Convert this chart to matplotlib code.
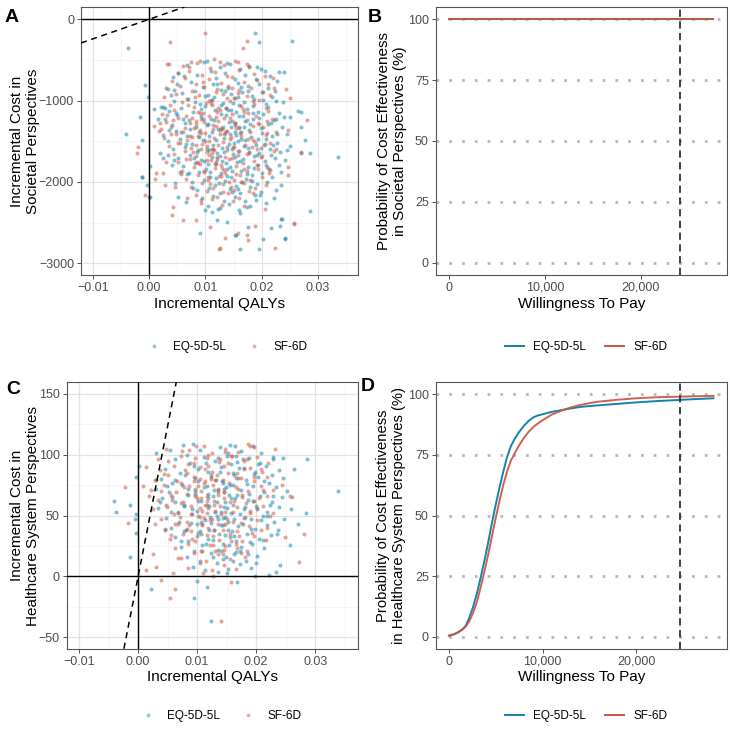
import matplotlib
matplotlib.use("Agg")
import matplotlib.pyplot as plt
from matplotlib.lines import Line2D
from matplotlib.ticker import FuncFormatter

plt.rcParams['font.family'] = ['Liberation Sans', 'DejaVu Sans']
plt.rcParams['axes.unicode_minus'] = True

# ---------------- data ----------------
series_names = ["EQ-5D-5L", "SF-6D"]

# Panel A: societal perspective, (incremental QALY, incremental cost)
soc_eq_points = [
    (-0.0038, -357), (0.0188, -173), (0.0196, -283), (0.0253, -267), (-0.0007, -808), (-0.0002, -952),
    (-0.0016, -1198), (-0.0041, -1415), (-0.0012, -1485), (-0.0013, -1936), (-0.0004, -2038), (0.0000, -2190),
    (0.0335, -1690), (0.0285, -2354), (0.0270, -1136), (0.0241, -2694), (0.0236, -2455), (0.0161, -2825),
    (0.0196, -2825), (0.0090, -2624), (0.0202, -2706), (0.0155, -2650), (0.0102, -509), (0.0139, -541),
    (0.0192, -583), (0.0199, -615), (0.0230, -644), (0.0240, -644), (0.0043, -706), (0.0052, -664),
    (0.0030, -849), (0.0044, -870), (0.0021, -1075), (0.0024, -1080), (0.0028, -1090), (0.0008, -1107),
    (0.0016, -1226), (0.0237, -1021), (0.0264, -1124), (0.0270, -1321), (0.0250, -1206), (0.0276, -1485),
    (0.0285, -1640), (0.0270, -1640), (0.0242, -2702), (0.0216, -2571), (0.0234, -2460), (0.0232, -2542),
    (0.0176, -2558), (0.0152, -2653), (0.0139, -2490), (0.0120, -2469), (0.0111, -2374), (0.0126, -2325),
    (0.0161, -2386), (0.0173, -2304), (0.0208, -2256), (0.0226, -2100), (0.0235, -2038), (0.0221, -2194),
    (0.0190, -2223), (0.0099, -2346), (0.0001, -2182), (0.0002, -1804), (-0.0012, -1943), (0.0025, -1710),
    (0.0034, -1669), (0.0019, -1648), (0.0040, -1792), (0.0055, -1882), (0.0078, -2079), (0.0046, -2017),
    (0.0066, -2243), (0.0052, -2182),
    (0.0068, -560), (0.0098, -520), (0.0125, -590), (0.0143, -545), (0.0162, -610), (0.0178, -575), (0.0205, -640), (0.0110, -630),
    (0.0062, -700), (0.0085, -680), (0.0118, -720), (0.0134, -665), (0.0152, -740), (0.0171, -690), (0.0189, -735), (0.0215, -700), (0.0228, -760),
    (0.0049, -800), (0.0074, -770), (0.0096, -830), (0.0121, -790), (0.0140, -845), (0.0158, -780), (0.0176, -820), (0.0196, -795), (0.0212, -840), (0.0224, -880),
    (0.0058, -905), (0.0082, -880), (0.0104, -935), (0.0127, -870), (0.0146, -920), (0.0165, -890), (0.0183, -945), (0.0201, -900), (0.0219, -960), (0.0038, -930),
    (0.0044, -1010), (0.0069, -980), (0.0090, -1040), (0.0112, -995), (0.0131, -1030), (0.0150, -970), (0.0169, -1015), (0.0187, -985), (0.0207, -1045), (0.0226, -1000), (0.0160, -1050),
    (0.0035, -1130), (0.0057, -1090), (0.0078, -1140), (0.0099, -1070), (0.0117, -1120), (0.0136, -1085), (0.0155, -1145), (0.0174, -1100), (0.0193, -1135), (0.0212, -1075), (0.0231, -1150), (0.0145, -1110),
    (0.0029, -1230), (0.0050, -1180), (0.0071, -1240), (0.0092, -1195), (0.0110, -1225), (0.0128, -1165), (0.0147, -1245), (0.0166, -1190), (0.0185, -1220), (0.0203, -1170), (0.0222, -1240), (0.0240, -1200),
    (0.0040, -1300), (0.0063, -1270), (0.0084, -1330), (0.0105, -1285), (0.0123, -1345), (0.0141, -1260), (0.0160, -1320), (0.0179, -1290), (0.0198, -1340), (0.0217, -1275), (0.0236, -1320), (0.0152, -1295),
    (0.0025, -1420), (0.0047, -1370), (0.0068, -1435), (0.0088, -1390), (0.0107, -1440), (0.0125, -1365), (0.0144, -1415), (0.0163, -1380), (0.0181, -1445), (0.0200, -1395), (0.0219, -1430), (0.0245, -1410), (0.0135, -1400),
    (0.0033, -1500), (0.0055, -1470), (0.0076, -1530), (0.0096, -1485), (0.0114, -1545), (0.0133, -1460), (0.0151, -1520), (0.0170, -1490), (0.0189, -1540), (0.0208, -1475), (0.0228, -1525), (0.0250, -1560), (0.0158, -1500),
    (0.0042, -1600), (0.0064, -1575), (0.0085, -1630), (0.0103, -1590), (0.0121, -1645), (0.0139, -1565), (0.0157, -1615), (0.0176, -1580), (0.0195, -1640), (0.0214, -1600), (0.0233, -1630), (0.0148, -1600),
    (0.0052, -1700), (0.0073, -1670), (0.0093, -1735), (0.0112, -1690), (0.0130, -1745), (0.0149, -1660), (0.0167, -1720), (0.0186, -1680), (0.0205, -1740), (0.0224, -1700), (0.0242, -1730),
    (0.0060, -1800), (0.0081, -1770), (0.0101, -1835), (0.0119, -1785), (0.0138, -1845), (0.0156, -1760), (0.0175, -1820), (0.0194, -1790), (0.0213, -1840), (0.0230, -1795),
    (0.0068, -1900), (0.0089, -1875), (0.0109, -1935), (0.0127, -1885), (0.0145, -1945), (0.0164, -1860), (0.0182, -1920), (0.0201, -1890), (0.0219, -1940),
    (0.0077, -2000), (0.0098, -1970), (0.0117, -2035), (0.0135, -1985), (0.0154, -2045), (0.0172, -1960), (0.0191, -2020), (0.0210, -1995),
    (0.0085, -2100), (0.0106, -2070), (0.0125, -2135), (0.0144, -2085), (0.0162, -2140), (0.0180, -2060), (0.0199, -2120),
    (0.0094, -2200), (0.0114, -2170), (0.0133, -2235), (0.0152, -2185), (0.0170, -2240), (0.0188, -2165),
    (0.0104, -2290), (0.0123, -2330), (0.0142, -2270), (0.0160, -2340), (0.0179, -2300),
    (0.0081, -1012), (0.0093, -1106), (0.0115, -957), (0.0137, -1178), (0.0149, -1034), (0.0171, -1253), (0.0184, -1068), (0.0196, -1211),
    (0.0073, -1347), (0.0102, -1302), (0.0119, -1484), (0.0131, -1322), (0.0155, -1427), (0.0168, -1561), (0.0178, -1364), (0.0206, -1528),
    (0.0087, -1602), (0.0097, -1741), (0.0126, -1687), (0.0143, -1822), (0.0161, -1745), (0.0173, -1903), (0.0191, -1673), (0.0209, -1812),
    (0.0066, -1531), (0.0079, -1705), (0.0108, -1875), (0.0124, -2012), (0.0139, -1928), (0.0158, -2087), (0.0183, -1985), (0.0197, -2163),
    (0.0113, -792), (0.0134, -883), (0.0157, -957), (0.0176, -887), (0.0099, -947), (0.0185, -1157), (0.0128, -1052), (0.0146, -1321),
    (0.0116, -1236), (0.0163, -1466), (0.0142, -1539), (0.0106, -1612), (0.0089, -1447), (0.0152, -1691), (0.0136, -1762), (0.0118, -1948),
    (0.0165, -1996), (0.0148, -2118), (0.0211, -1289), (0.0227, -1412), (0.0061, -1220), (0.0056, -1391), (0.0071, -1893), (0.0217, -1663),
    (0.0193, -1466), (0.0129, -1584), (0.0140, -1118), (0.0159, -1194), (0.0177, -1634), (0.0187, -1826), (0.0095, -1226), (0.0111, -1383),
    (0.0153, -1384), (0.0168, -1320), (0.0121, -1716), (0.0133, -1627), (0.0147, -1862), (0.0104, -1778), (0.0198, -1587), (0.0220, -1551),
    (0.0234, -1872), (0.0226, -1228), (0.0048, -1154), (0.0036, -1357), (0.0045, -1734), (0.0245, -1611), (0.0202, -992), (0.0164, -833),
]

soc_sf_points = [
    (0.0100, -172), (0.0037, -283), (0.0173, -271), (0.0166, -357), (-0.0022, -1648), (-0.0019, -1570),
    (-0.0007, -2161), (0.0258, -2509), (0.0124, -2825), (0.0223, -2817), (0.0175, -2710), (0.0031, -554),
    (0.0035, -554), (0.0090, -509), (0.0116, -492), (0.0126, -521), (0.0152, -509), (0.0173, -554),
    (0.0070, -583), (0.0008, -1312), (0.0019, -1280), (0.0220, -726), (0.0244, -861), (0.0251, -972),
    (0.0280, -1239), (0.0247, -1362), (0.0043, -2304), (0.0040, -2407), (0.0061, -2469), (0.0084, -2469),
    (0.0108, -2558), (0.0126, -2817), (0.0135, -2694), (0.0158, -2632), (0.0173, -2653), (0.0188, -2542),
    (0.0206, -2337), (0.0257, -2521), (0.0270, -1628), (0.0247, -1813), (0.0247, -1915), (0.0010, -1964),
    (0.0012, -1894), (0.0025, -1894), (0.0028, -2038), (0.0046, -2059), (0.0067, -2202), (0.0093, -2223),
    (0.0060, -575), (0.0085, -540), (0.0108, -600), (0.0133, -560), (0.0158, -530), (0.0178, -590), (0.0075, -520),
    (0.0052, -660), (0.0070, -630), (0.0094, -690), (0.0117, -645), (0.0139, -700), (0.0160, -620), (0.0186, -675), (0.0205, -700),
    (0.0041, -760), (0.0063, -725), (0.0084, -790), (0.0106, -740), (0.0127, -785), (0.0148, -710), (0.0168, -770), (0.0192, -745), (0.0212, -790),
    (0.0034, -860), (0.0055, -820), (0.0077, -880), (0.0098, -835), (0.0119, -895), (0.0140, -815), (0.0160, -870), (0.0181, -840), (0.0203, -890), (0.0222, -850),
    (0.0026, -960), (0.0047, -920), (0.0068, -985), (0.0089, -935), (0.0110, -995), (0.0131, -915), (0.0152, -970), (0.0173, -940), (0.0195, -990), (0.0215, -930),
    (0.0037, -1050), (0.0058, -1015), (0.0080, -1080), (0.0101, -1030), (0.0122, -1095), (0.0143, -1010), (0.0164, -1065), (0.0186, -1040), (0.0207, -1085), (0.0112, -1050),
    (0.0022, -1160), (0.0044, -1120), (0.0065, -1185), (0.0086, -1135), (0.0106, -1195), (0.0126, -1110), (0.0147, -1170), (0.0168, -1140), (0.0190, -1190), (0.0211, -1130), (0.0096, -1150),
    (0.0030, -1260), (0.0052, -1215), (0.0073, -1280), (0.0093, -1230), (0.0113, -1295), (0.0133, -1210), (0.0153, -1270), (0.0174, -1240), (0.0196, -1290), (0.0218, -1225), (0.0083, -1255), (0.0123, -1250),
    (0.0018, -1370), (0.0039, -1320), (0.0060, -1385), (0.0080, -1335), (0.0100, -1395), (0.0119, -1310), (0.0139, -1370), (0.0159, -1340), (0.0180, -1390), (0.0202, -1325), (0.0225, -1380), (0.0090, -1360), (0.0129, -1345),
    (0.0027, -1460), (0.0047, -1415), (0.0067, -1480), (0.0087, -1430), (0.0106, -1495), (0.0125, -1410), (0.0144, -1470), (0.0164, -1440), (0.0185, -1490), (0.0207, -1425), (0.0077, -1450), (0.0116, -1455),
    (0.0035, -1560), (0.0055, -1515), (0.0075, -1580), (0.0094, -1530), (0.0113, -1595), (0.0132, -1510), (0.0151, -1570), (0.0171, -1540), (0.0192, -1590), (0.0214, -1525), (0.0103, -1555), (0.0084, -1550),
    (0.0044, -1660), (0.0064, -1615), (0.0083, -1680), (0.0102, -1630), (0.0120, -1695), (0.0139, -1610), (0.0158, -1670), (0.0178, -1640), (0.0199, -1690), (0.0221, -1625), (0.0111, -1650),
    (0.0052, -1760), (0.0072, -1715), (0.0091, -1780), (0.0110, -1730), (0.0128, -1795), (0.0147, -1710), (0.0166, -1770), (0.0186, -1740), (0.0207, -1790), (0.0119, -1750),
    (0.0059, -1860), (0.0079, -1815), (0.0098, -1880), (0.0117, -1830), (0.0135, -1895), (0.0154, -1810), (0.0173, -1870), (0.0193, -1840), (0.0213, -1885),
    (0.0066, -1960), (0.0086, -1915), (0.0105, -1980), (0.0124, -1930), (0.0142, -1995), (0.0161, -1910), (0.0180, -1970), (0.0200, -1940),
    (0.0074, -2060), (0.0094, -2015), (0.0113, -2080), (0.0131, -2030), (0.0150, -2095), (0.0169, -2010), (0.0188, -2070), (0.0207, -2040),
    (0.0083, -2160), (0.0103, -2115), (0.0121, -2180), (0.0140, -2130), (0.0159, -2195), (0.0178, -2110),
    (0.0093, -2260), (0.0112, -2215), (0.0130, -2280), (0.0149, -2230), (0.0168, -2290),
    (0.0069, -1058), (0.0091, -1147), (0.0106, -1002), (0.0118, -1196), (0.0137, -1088), (0.0153, -1271), (0.0166, -1103), (0.0184, -1311),
    (0.0064, -1336), (0.0084, -1283), (0.0099, -1492), (0.0114, -1351), (0.0133, -1406), (0.0149, -1574), (0.0162, -1393), (0.0188, -1505),
    (0.0078, -1633), (0.0085, -1759), (0.0107, -1671), (0.0129, -1826), (0.0142, -1718), (0.0155, -1908), (0.0174, -1652), (0.0191, -1795),
    (0.0051, -1521), (0.0066, -1714), (0.0097, -1866), (0.0109, -2026), (0.0127, -1921), (0.0146, -2058), (0.0164, -2004), (0.0184, -2138),
    (0.0095, -771), (0.0121, -853), (0.0138, -964), (0.0157, -909), (0.0081, -951), (0.0175, -1149), (0.0110, -1029), (0.0128, -1331),
    (0.0098, -1257), (0.0146, -1448), (0.0123, -1546), (0.0093, -1591), (0.0072, -1429), (0.0134, -1699), (0.0117, -1781), (0.0104, -1934),
    (0.0151, -1982), (0.0131, -2129), (0.0194, -1275), (0.0209, -1398), (0.0043, -1239), (0.0038, -1408), (0.0056, -1904), (0.0200, -1678),
    (0.0176, -1476), (0.0111, -1594), (0.0120, -1134), (0.0144, -1209), (0.0160, -1624), (0.0169, -1841), (0.0076, -1218), (0.0093, -1394),
    (0.0136, -1372), (0.0155, -1336), (0.0103, -1726), (0.0115, -1609), (0.0133, -1853), (0.0087, -1764), (0.0183, -1571), (0.0204, -1544),
    (0.0215, -1858), (0.0209, -1247), (0.0032, -1171), (0.0021, -1344), (0.0030, -1751), (0.0226, -1598), (0.0184, -1008), (0.0147, -848),
]

# Panel C: healthcare system perspective
hc_eq_points = [
    (-0.0041, 62), (-0.0038, 53), (-0.0014, 16), (-0.0013, 59), (-0.0003, 51), (-0.0003, 36), (0.0001, 91),
    (-0.0003, 82), (-0.0006, 47), (0.0338, 70), (0.0286, 96), (0.0285, 52), (0.0271, 43), (0.0264, 88),
    (0.0257, 26), (0.0240, 9), (0.0233, 4), (0.0222, 1), (0.0198, 0), (0.0167, -5), (0.0094, -18),
    (0.0123, -37), (0.0021, -10), (0.0116, -9), (0.0099, -4), (0.0136, 4), (0.0150, 3), (0.0031, 101),
    (0.0054, 104), (0.0076, 108), (0.0093, 109), (0.0155, 108), (0.0164, 107), (0.0209, 101), (0.0229, 96), (0.0246, 97),
    (0.0105, 104), (0.0138, 106), (0.0152, 101), (0.0175, 103), (0.0195, 107), (0.0083, 100),
    (0.0062, 96), (0.0088, 93), (0.0112, 98), (0.0131, 95), (0.0150, 99), (0.0168, 94), (0.0187, 97), (0.0206, 93), (0.0228, 98),
    (0.0045, 88), (0.0071, 85), (0.0095, 91), (0.0118, 86), (0.0140, 90), (0.0160, 85), (0.0179, 89), (0.0198, 86), (0.0217, 91), (0.0238, 87),
    (0.0038, 80), (0.0058, 77), (0.0080, 83), (0.0102, 78), (0.0123, 82), (0.0143, 77), (0.0163, 83), (0.0183, 79), (0.0203, 82), (0.0222, 77), (0.0245, 81), (0.0132, 79),
    (0.0030, 72), (0.0052, 69), (0.0074, 75), (0.0096, 70), (0.0116, 74), (0.0136, 69), (0.0155, 75), (0.0175, 71), (0.0195, 74), (0.0214, 69), (0.0233, 73), (0.0146, 72), (0.0252, 70),
    (0.0041, 64), (0.0063, 61), (0.0085, 67), (0.0106, 62), (0.0127, 66), (0.0147, 61), (0.0167, 67), (0.0186, 63), (0.0206, 66), (0.0226, 61), (0.0243, 65), (0.0157, 64), (0.0118, 64),
    (0.0034, 56), (0.0056, 53), (0.0078, 59), (0.0099, 54), (0.0120, 58), (0.0140, 53), (0.0160, 59), (0.0179, 55), (0.0199, 58), (0.0219, 53), (0.0238, 57), (0.0150, 56), (0.0259, 55),
    (0.0048, 48), (0.0070, 45), (0.0092, 51), (0.0113, 46), (0.0133, 50), (0.0153, 45), (0.0172, 51), (0.0192, 47), (0.0212, 50), (0.0231, 45), (0.0143, 48), (0.0162, 47),
    (0.0055, 40), (0.0077, 37), (0.0099, 43), (0.0120, 38), (0.0140, 42), (0.0159, 37), (0.0178, 43), (0.0198, 39), (0.0218, 42), (0.0237, 38),
    (0.0063, 32), (0.0085, 29), (0.0107, 35), (0.0127, 30), (0.0147, 34), (0.0166, 29), (0.0185, 35), (0.0205, 31), (0.0225, 34), (0.0155, 32),
    (0.0072, 24), (0.0094, 21), (0.0115, 27), (0.0135, 22), (0.0154, 26), (0.0173, 21), (0.0193, 27), (0.0213, 23),
    (0.0082, 16), (0.0104, 13), (0.0124, 19), (0.0144, 14), (0.0163, 18), (0.0182, 13), (0.0202, 17),
    (0.0093, 8), (0.0114, 5), (0.0133, 11), (0.0153, 6), (0.0172, 10), (0.0191, 7),
    (0.0084, 72), (0.0097, 81), (0.0119, 68), (0.0138, 86), (0.0149, 73), (0.0171, 89), (0.0184, 76), (0.0197, 84),
    (0.0077, 58), (0.0101, 62), (0.0122, 49), (0.0134, 61), (0.0158, 52), (0.0169, 41), (0.0181, 57), (0.0208, 46),
    (0.0089, 44), (0.0099, 33), (0.0128, 38), (0.0144, 27), (0.0163, 33), (0.0175, 24), (0.0192, 39), (0.0211, 30),
    (0.0068, 52), (0.0081, 38), (0.0109, 26), (0.0126, 16), (0.0141, 21), (0.0161, 13), (0.0186, 18), (0.0199, 11),
    (0.0115, 93), (0.0136, 97), (0.0157, 92), (0.0178, 96), (0.0102, 88), (0.0187, 68), (0.0129, 71), (0.0146, 57),
    (0.0117, 59), (0.0164, 64), (0.0143, 42), (0.0107, 45), (0.0091, 55), (0.0153, 38), (0.0137, 35), (0.0119, 31),
    (0.0166, 20), (0.0149, 16), (0.0213, 78), (0.0229, 66), (0.0062, 79), (0.0057, 65), (0.0073, 29), (0.0218, 50),
    (0.0194, 62), (0.0131, 53), (0.0142, 78), (0.0161, 75), (0.0179, 48), (0.0189, 28), (0.0096, 68), (0.0112, 73),
    (0.0154, 67), (0.0169, 81), (0.0123, 44), (0.0135, 47), (0.0148, 49), (0.0105, 37), (0.0201, 55), (0.0223, 59),
    (0.0236, 35), (0.0227, 83), (0.0049, 74), (0.0037, 61), (0.0046, 38), (0.0247, 47), (0.0203, 92), (0.0165, 99),
]

hc_sf_points = [
    (-0.0023, 73), (-0.0017, 44), (0.0008, 74), (0.0013, 5), (0.0038, -3), (0.0062, -10), (0.0054, -18),
    (0.0140, -37), (0.0158, -5), (0.0127, 0), (0.0110, 3), (0.0281, 35), (0.0273, 12), (0.0249, 32),
    (0.0232, 105), (0.0186, 109), (0.0189, 107), (0.0111, 107), (0.0086, 104), (0.0048, 105), (0.0033, 96),
    (0.0014, 90), (0.0257, 66), (0.0260, 65), (0.0243, 75), (0.0068, 15), (0.0030, 8), (0.0025, 18), (0.0059, 3),
    (0.0075, 103), (0.0098, 107), (0.0125, 101), (0.0148, 105), (0.0170, 102), (0.0196, 106),
    (0.0050, 95), (0.0072, 99), (0.0094, 93), (0.0116, 97), (0.0137, 94), (0.0158, 99), (0.0180, 95), (0.0201, 98), (0.0220, 93),
    (0.0037, 87), (0.0060, 91), (0.0082, 85), (0.0104, 90), (0.0125, 86), (0.0146, 91), (0.0167, 85), (0.0189, 89), (0.0210, 86), (0.0113, 88),
    (0.0029, 79), (0.0051, 83), (0.0073, 77), (0.0094, 82), (0.0114, 78), (0.0134, 83), (0.0154, 77), (0.0175, 81), (0.0197, 78), (0.0218, 82), (0.0104, 80), (0.0124, 80),
    (0.0021, 71), (0.0043, 75), (0.0065, 69), (0.0086, 74), (0.0106, 70), (0.0126, 75), (0.0145, 69), (0.0165, 73), (0.0186, 70), (0.0208, 74), (0.0229, 71), (0.0096, 72), (0.0136, 72),
    (0.0033, 63), (0.0055, 67), (0.0076, 61), (0.0097, 66), (0.0117, 62), (0.0136, 67), (0.0156, 61), (0.0176, 65), (0.0197, 62), (0.0219, 66), (0.0107, 64), (0.0146, 64),
    (0.0026, 55), (0.0047, 59), (0.0068, 53), (0.0089, 58), (0.0109, 54), (0.0128, 59), (0.0148, 53), (0.0168, 57), (0.0189, 54), (0.0211, 58), (0.0118, 56),
    (0.0039, 47), (0.0061, 51), (0.0082, 45), (0.0102, 50), (0.0122, 46), (0.0141, 51), (0.0161, 45), (0.0181, 49), (0.0202, 46), (0.0224, 50), (0.0112, 48),
    (0.0046, 39), (0.0068, 43), (0.0089, 37), (0.0109, 42), (0.0129, 38), (0.0148, 43), (0.0168, 37), (0.0188, 41), (0.0209, 38),
    (0.0054, 31), (0.0076, 35), (0.0097, 29), (0.0117, 34), (0.0137, 30), (0.0156, 35), (0.0176, 29), (0.0196, 33), (0.0217, 30),
    (0.0063, 23), (0.0085, 27), (0.0106, 21), (0.0126, 26), (0.0145, 22), (0.0165, 27), (0.0185, 21),
    (0.0073, 15), (0.0095, 19), (0.0115, 13), (0.0135, 18), (0.0155, 14), (0.0175, 19),
    (0.0084, 7), (0.0105, 11), (0.0125, 5), (0.0146, 9), (0.0165, 6),
    (0.0066, 78), (0.0079, 87), (0.0101, 74), (0.0119, 91), (0.0131, 79), (0.0153, 93), (0.0166, 81), (0.0179, 88),
    (0.0058, 63), (0.0083, 68), (0.0104, 56), (0.0117, 66), (0.0139, 58), (0.0151, 47), (0.0163, 62), (0.0189, 52),
    (0.0071, 49), (0.0082, 39), (0.0109, 43), (0.0126, 33), (0.0144, 38), (0.0157, 29), (0.0174, 44), (0.0193, 36),
    (0.0049, 57), (0.0063, 43), (0.0091, 31), (0.0108, 21), (0.0122, 26), (0.0143, 18), (0.0167, 23), (0.0181, 16),
    (0.0096, 97), (0.0118, 100), (0.0139, 96), (0.0159, 99), (0.0084, 92), (0.0169, 72), (0.0111, 77), (0.0128, 62),
    (0.0099, 64), (0.0146, 69), (0.0125, 47), (0.0089, 51), (0.0073, 60), (0.0135, 43), (0.0119, 40), (0.0101, 36),
    (0.0148, 25), (0.0131, 21), (0.0196, 82), (0.0211, 71), (0.0044, 84), (0.0039, 70), (0.0055, 34), (0.0201, 56),
    (0.0176, 67), (0.0113, 59), (0.0124, 83), (0.0143, 79), (0.0161, 53), (0.0171, 33), (0.0078, 73), (0.0094, 78),
    (0.0136, 71), (0.0152, 85), (0.0105, 49), (0.0117, 52), (0.0130, 54), (0.0087, 42), (0.0183, 60), (0.0205, 64),
    (0.0218, 40), (0.0209, 88), (0.0031, 79), (0.0019, 66), (0.0028, 43), (0.0229, 52), (0.0185, 96), (0.0147, 102),
]

# Panel B: CEAC, societal perspective
wtp_b = [0, 5000, 10000, 15000, 20000, 25000, 27600]
ceac_b_eq = [100, 100, 100, 100, 100, 100, 100]
ceac_b_sf = [100, 100, 100, 100, 100, 100, 100]
threshold_b = 24100

# Panel D: CEAC, healthcare system perspective
wtp_d = [0, 500, 1000, 1500, 1800, 2200, 2600, 3000, 3400, 3800, 4200, 4600, 5000, 5400, 5800, 6200,
         6600, 7000, 7500, 8000, 8500, 9000, 9500, 10000, 10500, 11000, 12000, 13000, 14000, 15000,
         16000, 18000, 20000, 22000, 24000, 26000, 28260]
ceac_d_eq = [0.4, 0.9, 1.8, 3.2, 4.5, 8, 12.5, 18, 24.5, 31.5, 39, 47, 54.5, 61.5, 68, 74,
             78.5, 81.5, 84.5, 87, 89, 90.5, 91.3, 91.8, 92.3, 92.8, 93.5, 94.2, 94.8, 95.2,
             95.5, 96.1, 96.7, 97.2, 97.6, 98.0, 98.4]
ceac_d_sf = [0.4, 0.9, 1.8, 3.1, 4.2, 6.5, 10, 14.5, 20.5, 27, 34, 41.5, 49, 56, 62.5, 68,
             72.5, 75.5, 79, 82, 84.5, 86.5, 88, 89.3, 90.5, 91.7, 93.3, 94.6, 95.6, 96.4,
             97.0, 97.8, 98.4, 98.8, 99.0, 99.2, 99.4]
threshold_d = 24700

# ---------------- style ----------------
BLUE = "#1483AC"
RED = "#C8553F"
colors = [BLUE, RED]
TICK_C = "#4D4D4D"
BORDER_C = "#555555"

W = 730.0
def rect(l, t, r, b):
    return [l / W, 1 - b / W, (r - l) / W, (b - t) / W]

fig = plt.figure(figsize=(7.3, 7.3), dpi=100)
fig.patch.set_facecolor("white")

axA = fig.add_axes(rect(81, 7, 358, 275))
axB = fig.add_axes(rect(435.7, 7, 726.7, 275))
axC = fig.add_axes(rect(66.7, 382.3, 358.3, 648.7))
axD = fig.add_axes(rect(435.7, 382.3, 726.7, 648.7))

def style_common(ax):
    for s in ax.spines.values():
        s.set_color(BORDER_C)
        s.set_linewidth(0.8)
    ax.tick_params(axis="both", which="major", length=3, width=0.6, color="#333333",
                   labelsize=9, labelcolor=TICK_C, pad=2)
    ax.tick_params(axis="both", which="minor", length=0)

def fmt_q(v, pos):
    s = f"{abs(v):.2f}"
    return ("\u2212" + s) if v < -1e-12 else s

def fmt_int(v, pos):
    return ("\u2212" + f"{abs(v):.0f}") if v < 0 else f"{v:.0f}"

def fmt_comma(v, pos):
    return f"{v:,.0f}"

def ce_plane(ax, pts_eq, pts_sf, xlim, ylim, yticks, yminor, slope, ylabel):
    style_common(ax)
    ax.set_xlim(*xlim)
    ax.set_ylim(*ylim)
    ax.set_xticks([-0.01, 0.0, 0.01, 0.02, 0.03])
    ax.set_xticks([-0.005, 0.005, 0.015, 0.025, 0.035], minor=True)
    ax.set_yticks(yticks)
    ax.set_yticks(yminor, minor=True)
    ax.xaxis.set_major_formatter(FuncFormatter(fmt_q))
    ax.yaxis.set_major_formatter(FuncFormatter(fmt_int))
    ax.grid(True, which="major", color="#E3E3E3", linewidth=0.9, zorder=0)
    ax.grid(True, which="minor", color="#F2F2F2", linewidth=0.5, zorder=0)
    ax.set_axisbelow(True)
    for pts, c, name in zip([pts_eq, pts_sf], colors, series_names):
        xs = [p[0] for p in pts]
        ys = [p[1] for p in pts]
        ax.scatter(xs, ys, s=8.5, color=c, alpha=0.52, linewidths=0, zorder=2, label=name)
    ax.axhline(0, color="black", linewidth=1.0, zorder=3)
    ax.axvline(0, color="black", linewidth=1.0, zorder=3)
    ax.axline((0, 0), slope=slope, color="black", linewidth=1.1, dashes=(4, 3), zorder=3)
    ax.set_xlabel("Incremental QALYs", fontsize=11, labelpad=2)
    ax.set_ylabel(ylabel, fontsize=11, linespacing=1.15)

def ceac(ax, wtp, eq, sf, thr, ylabel, yfs):
    style_common(ax)
    ax.set_xlim(-0.05 * wtp[-1], 1.05 * wtp[-1])
    ax.set_ylim(-5, 105)
    ax.set_yticks([0, 25, 50, 75, 100])
    ax.set_xticks([0, 10000, 20000])
    ax.xaxis.set_major_formatter(FuncFormatter(fmt_comma))
    for yv in [0, 25, 50, 75, 100]:
        ax.axhline(yv, color="#B8B8B8", linewidth=2.0, linestyle=(0, (1, 3.6)), zorder=1)
    ax.plot(wtp, eq, color=BLUE, linewidth=1.4, zorder=3, label=series_names[0])
    ax.plot(wtp, sf, color=RED, linewidth=1.4, alpha=0.92, zorder=4, label=series_names[1])
    ax.axvline(thr, color="#333333", linewidth=1.3, dashes=(4, 2.5), zorder=5)
    ax.set_xlabel("Willingness To Pay", fontsize=11, labelpad=2)
    ax.set_ylabel(ylabel, fontsize=yfs, linespacing=1.15)

ce_plane(axA, soc_eq_points, soc_sf_points, (-0.0121, 0.0371), (-3144, 151),
         [0, -1000, -2000, -3000], [-500, -1500, -2500], threshold_b,
         "Incremental Cost in\nSocietal Perspectives")
ce_plane(axC, hc_eq_points, hc_sf_points, (-0.0121, 0.0373), (-59.4, 159.4),
         [-50, 0, 50, 100, 150], [-25, 25, 75, 125], threshold_d,
         "Incremental Cost in\nHealthcare System Perspectives")
ceac(axB, wtp_b, ceac_b_eq, ceac_b_sf, threshold_b,
     "Probability of Cost Effectiveness\nin Societal Perspectives (%)", 11)
ceac(axD, wtp_d, ceac_d_eq, ceac_d_sf, threshold_d,
     "Probability of Cost Effectiveness\nin Healthcare System Perspectives (%)", 10.6)

# y-label positions: figure pixel x of the label's right edge
for ax, xr in [(axA, 40), (axB, 407), (axC, 40), (axD, 406)]:
    bb = ax.get_position()
    ax.yaxis.set_label_coords((xr / W - bb.x0) / bb.width, 0.5)

# legends
def pt_handles():
    return [Line2D([], [], linestyle="none", marker="o", markersize=2.8,
                   markerfacecolor=c, markeredgewidth=0, alpha=0.45) for c in colors]

def ln_handles():
    return [Line2D([], [], color=c, linewidth=1.4) for c in colors]

for ax, handles, cx, cy in [(axA, pt_handles(), 226, 347), (axC, pt_handles(), 220, 716),
                            (axB, ln_handles(), 586, 347), (axD, ln_handles(), 586, 716)]:
    ax.legend(handles, series_names, loc="center", bbox_to_anchor=(cx / W, 1 - cy / W),
              bbox_transform=fig.transFigure, ncol=2, frameon=False, fontsize=8.5,
              handlelength=1.6, handletextpad=0.8, columnspacing=1.6, borderpad=0)

# panel letters
for lab, x, y in [("A", 5, 18), ("B", 368, 18), ("C", 6, 390), ("D", 361, 386)]:
    fig.text(x / W, 1 - y / W, lab, fontsize=14, fontweight="bold", ha="left", va="center")

fig.savefig("out.png", dpi=100, facecolor="white")
